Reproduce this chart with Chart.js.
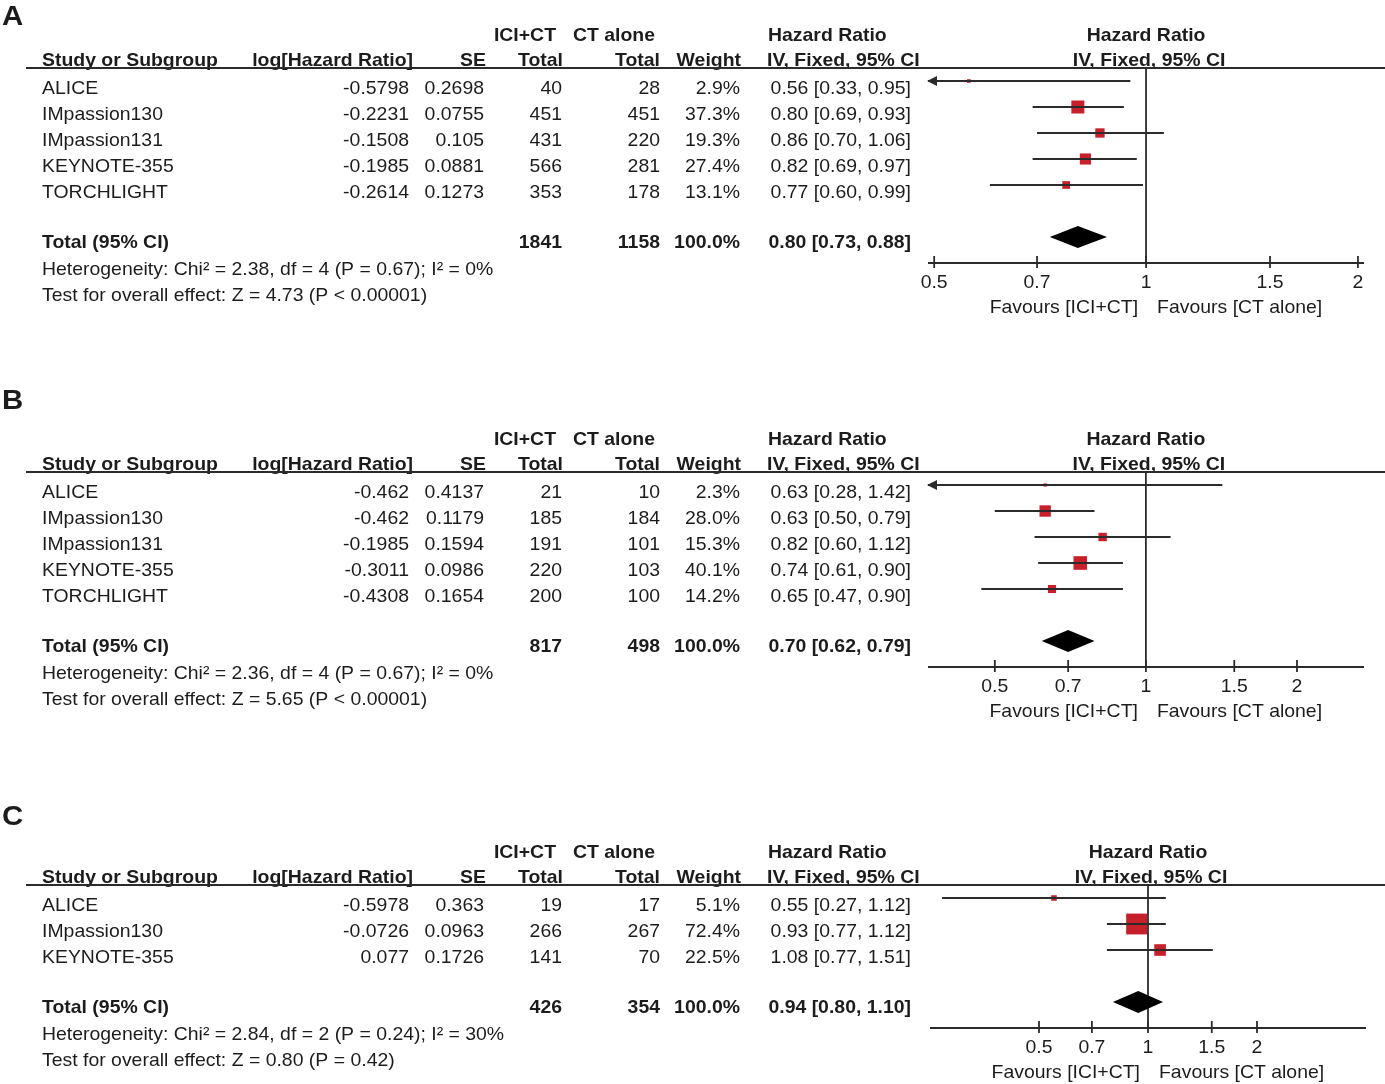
<!DOCTYPE html>
<html>
<head>
<meta charset="utf-8">
<script src="https://cdn.jsdelivr.net/npm/chart.js@4.4.1/dist/chart.umd.min.js"></script>
<style>
  html, body { margin: 0; padding: 0; background: #fff; }
  #wrap { position: relative; width: 1385px; height: 1084px; overflow: hidden; }
  canvas { position: absolute; left: 0; }
</style>
</head>
<body>
<div id="wrap">
  <canvas id="panelA"></canvas>
  <canvas id="panelB"></canvas>
  <canvas id="panelC"></canvas>
</div>
<script>
// ---------- data ----------
const tickLabels = [0.5, 0.7, 1, 1.5, 2];

// A
const studiesA = ["ALICE", "IMpassion130", "IMpassion131", "KEYNOTE-355", "TORCHLIGHT"];
const logHrA = [-0.5798, -0.2231, -0.1508, -0.1985, -0.2614];
const seA = [0.2698, 0.0755, 0.105, 0.0881, 0.1273];
const iciTotalA = [40, 451, 431, 566, 353];
const ctTotalA = [28, 451, 220, 281, 178];
const weightA = [2.9, 37.3, 19.3, 27.4, 13.1];
const hrA = [0.56, 0.80, 0.86, 0.82, 0.77];
const lowA = [0.33, 0.69, 0.70, 0.69, 0.60];
const highA = [0.95, 0.93, 1.06, 0.97, 0.99];
const pooledA = [0.80, 0.73, 0.88];   // HR, low, high
const sumsA = [1841, 1158];
const hetA = "Heterogeneity: Chi² = 2.38, df = 4 (P = 0.67); I² = 0%";
const testA = "Test for overall effect: Z = 4.73 (P < 0.00001)";
const rangeA = [0.49, 2.04];

// B
const studiesB = ["ALICE", "IMpassion130", "IMpassion131", "KEYNOTE-355", "TORCHLIGHT"];
const logHrB = [-0.462, -0.462, -0.1985, -0.3011, -0.4308];
const seB = [0.4137, 0.1179, 0.1594, 0.0986, 0.1654];
const iciTotalB = [21, 185, 191, 220, 200];
const ctTotalB = [10, 184, 101, 103, 100];
const weightB = [2.3, 28.0, 15.3, 40.1, 14.2];
const hrB = [0.63, 0.63, 0.82, 0.74, 0.65];
const lowB = [0.28, 0.50, 0.60, 0.61, 0.47];
const highB = [1.42, 0.79, 1.12, 0.90, 0.90];
const pooledB = [0.70, 0.62, 0.79];
const sumsB = [817, 498];
const hetB = "Heterogeneity: Chi² = 2.36, df = 4 (P = 0.67); I² = 0%";
const testB = "Test for overall effect: Z = 5.65 (P < 0.00001)";
const rangeB = [0.368, 2.72];

// C
const studiesC = ["ALICE", "IMpassion130", "KEYNOTE-355"];
const logHrC = [-0.5978, -0.0726, 0.077];
const seC = [0.363, 0.0963, 0.1726];
const iciTotalC = [19, 266, 141];
const ctTotalC = [17, 267, 70];
const weightC = [5.1, 72.4, 22.5];
const hrC = [0.55, 0.93, 1.08];
const lowC = [0.27, 0.77, 0.77];
const highC = [1.12, 1.12, 1.51];
const pooledC = [0.94, 0.80, 1.10];
const sumsC = [426, 354];
const hetC = "Heterogeneity: Chi² = 2.84, df = 2 (P = 0.24); I² = 30%";
const testC = "Test for overall effect: Z = 0.80 (P = 0.42)";
const rangeC = [0.25, 4];

// ---------- styles ----------
const FONT = '"Liberation Sans", Arial, sans-serif';
const FS = 18.5;       // font size
const SX = 1.05;       // horizontal stretch of the scan
const ROW = 26;        // row height
const TXT = "#1c1c1c";
const INK = "#2b2b2b";
const RED = "#c8202a";

const panels = [
  { letter: "A", canvas: "panelA", top: 0,   height: 372, padTop: 68,  left: 928, right: 1364, boxScale: 2.13, letterY: 25,
    studies: studiesA, logHr: logHrA, se: seA, ici: iciTotalA, ct: ctTotalA, weight: weightA,
    hr: hrA, low: lowA, high: highA, pooled: pooledA, sums: sumsA, het: hetA, test: testA, range: rangeA },
  { letter: "B", canvas: "panelB", top: 372, height: 413, padTop: 100, left: 928, right: 1364, boxScale: 2.15, letterY: 37,
    studies: studiesB, logHr: logHrB, se: seB, ici: iciTotalB, ct: ctTotalB, weight: weightB,
    hr: hrB, low: lowB, high: highB, pooled: pooledB, sums: sumsB, het: hetB, test: testB, range: rangeB },
  { letter: "C", canvas: "panelC", top: 785, height: 299, padTop: 100, left: 930, right: 1366, boxScale: 2.45, letterY: 40,
    studies: studiesC, logHr: logHrC, se: seC, ici: iciTotalC, ct: ctTotalC, weight: weightC,
    hr: hrC, low: lowC, high: highC, pooled: pooledC, sums: sumsC, het: hetC, test: testC, range: rangeC }
];

// ---------- helpers ----------
function txt(ctx, s, x, y, align, bold, size) {
  ctx.save();
  ctx.font = (bold ? "bold " : "") + (size || FS) + "px " + FONT;
  ctx.fillStyle = TXT;
  ctx.textAlign = "left";
  ctx.textBaseline = "alphabetic";
  const w = ctx.measureText(s).width * SX;
  let x0 = x;
  if (align === "right") x0 = x - w;
  if (align === "center") x0 = x - w / 2;
  ctx.translate(x0, y);
  ctx.scale(SX, 1);
  ctx.fillText(s, 0, 0);
  ctx.restore();
}

function seg(ctx, x1, y1, x2, y2, w) {
  ctx.save();
  ctx.strokeStyle = INK;
  ctx.lineWidth = w;
  ctx.beginPath();
  ctx.moveTo(x1, y1);
  ctx.lineTo(x2, y2);
  ctx.stroke();
  ctx.restore();
}

const ci = (h, l, u) => h.toFixed(2) + " [" + l.toFixed(2) + ", " + u.toFixed(2) + "]";

// ---------- plugin: table, axis, diamond ----------
function forestPlugin(p) {
  const n = p.studies.length;
  return {
    id: "forest" + p.letter,
    beforeDatasetsDraw(chart) {
      const { ctx, chartArea: a, scales: { x } } = chart;
      const x1 = x.getPixelForValue(1);
      seg(ctx, x1, a.top, x1, a.bottom, 1.8);
    },
    afterDatasetsDraw(chart) {
      const { ctx, chartArea: a, scales: { x, y } } = chart;

      // arrows for clipped intervals
      ctx.save();
      ctx.fillStyle = INK;
      p.low.forEach((lo, i) => {
        const yy = y.getPixelForValue(i);
        if (lo < x.min) {
          ctx.beginPath();
          ctx.moveTo(a.left - 1, yy);
          ctx.lineTo(a.left + 9, yy - 5);
          ctx.lineTo(a.left + 9, yy + 5);
          ctx.closePath();
          ctx.fill();
        }
        if (p.high[i] > x.max) {
          ctx.beginPath();
          ctx.moveTo(a.right + 1, yy);
          ctx.lineTo(a.right - 9, yy - 5);
          ctx.lineTo(a.right - 9, yy + 5);
          ctx.closePath();
          ctx.fill();
        }
      });

      // pooled diamond
      const yd = y.getPixelForValue(n + 1);
      ctx.fillStyle = "#000";
      ctx.beginPath();
      ctx.moveTo(x.getPixelForValue(p.pooled[1]), yd);
      ctx.lineTo(x.getPixelForValue(p.pooled[0]), yd - 11);
      ctx.lineTo(x.getPixelForValue(p.pooled[2]), yd);
      ctx.lineTo(x.getPixelForValue(p.pooled[0]), yd + 11);
      ctx.closePath();
      ctx.fill();
      ctx.restore();

      // x axis
      seg(ctx, a.left, a.bottom, a.right, a.bottom, 1.8);
      tickLabels.forEach(v => {
        const xx = x.getPixelForValue(v);
        seg(ctx, xx, a.bottom - 7, xx, a.bottom + 5, 1.8);
        txt(ctx, String(v), xx, a.bottom + 25, "center", false);
      });
      const x1 = x.getPixelForValue(1);
      txt(ctx, "Favours [ICI+CT]", x1 - 8, a.bottom + 50, "right", false);
      txt(ctx, "Favours [CT alone]", x1 + 11, a.bottom + 50, "left", false);
    },
    afterDraw(chart) {
      const { ctx, chartArea: a, scales: { x, y } } = chart;
      const T = a.top;
      const x1 = x.getPixelForValue(1);

      txt(ctx, p.letter, 2, p.letterY, "left", true, 28);

      // header
      txt(ctx, "ICI+CT", 556, T - 27, "right", true);
      txt(ctx, "CT alone", 573, T - 27, "left", true);
      txt(ctx, "Hazard Ratio", 768, T - 27, "left", true);
      txt(ctx, "Hazard Ratio", x1, T - 27, "center", true);
      txt(ctx, "Study or Subgroup", 42, T - 2.5, "left", true);
      txt(ctx, "log[Hazard Ratio]", 413, T - 2.5, "right", true);
      txt(ctx, "SE", 486, T - 2.5, "right", true);
      txt(ctx, "Total", 563, T - 2.5, "right", true);
      txt(ctx, "Total", 660, T - 2.5, "right", true);
      txt(ctx, "Weight", 741, T - 2.5, "right", true);
      txt(ctx, "IV, Fixed, 95% CI", 767, T - 2.5, "left", true);
      txt(ctx, "IV, Fixed, 95% CI", x1 + 3, T - 2.5, "center", true);
      seg(ctx, 26, T, 1385, T, 1.8);

      // rows
      p.studies.forEach((s, i) => {
        const b = y.getPixelForValue(i) + 13;
        txt(ctx, s, 42, b, "left", false);
        txt(ctx, String(p.logHr[i]), 409, b, "right", false);
        txt(ctx, String(p.se[i]), 484, b, "right", false);
        txt(ctx, String(p.ici[i]), 562, b, "right", false);
        txt(ctx, String(p.ct[i]), 660, b, "right", false);
        txt(ctx, p.weight[i].toFixed(1) + "%", 740, b, "right", false);
        txt(ctx, ci(p.hr[i], p.low[i], p.high[i]), 911, b, "right", false);
      });

      // total
      const tb = y.getPixelForValue(n + 1) + 11;
      txt(ctx, "Total (95% CI)", 42, tb, "left", true);
      txt(ctx, String(p.sums[0]), 562, tb, "right", true);
      txt(ctx, String(p.sums[1]), 660, tb, "right", true);
      txt(ctx, "100.0%", 740, tb, "right", true);
      txt(ctx, ci(p.pooled[0], p.pooled[1], p.pooled[2]), 911, tb, "right", true);
      txt(ctx, p.het, 42, tb + 27, "left", false);
      txt(ctx, p.test, 42, tb + 53, "left", false);
    }
  };
}

// ---------- charts ----------
panels.forEach(p => {
  const n = p.studies.length;
  const cv = document.getElementById(p.canvas);
  cv.width = 1385;
  cv.height = p.height;
  cv.style.width = "1385px";
  cv.style.height = p.height + "px";
  cv.style.top = p.top + "px";

  const ciSets = p.studies.map((s, i) => ({
    label: s + " CI",
    data: [{ x: p.low[i], y: i }, { x: p.high[i], y: i }],
    showLine: true,
    borderColor: INK,
    borderWidth: 1.8,
    pointRadius: 0
  }));

  const boxSet = {
    label: "HR",
    data: p.hr.map((v, i) => ({ x: v, y: i })),
    pointStyle: "rect",
    pointRadius: p.weight.map(w => p.boxScale * Math.sqrt(w) / (2 * Math.SQRT1_2)),
    pointBackgroundColor: RED,
    pointBorderWidth: 0,
    showLine: false
  };

  new Chart(cv, {
    type: "scatter",
    data: { datasets: [...ciSets, boxSet] },
    options: {
      responsive: false,
      animation: false,
      layout: {
        padding: {
          left: p.left,
          right: 1385 - p.right,
          top: p.padTop,
          bottom: p.height - p.padTop - ROW * (n + 2.5)
        }
      },
      scales: {
        x: { type: "logarithmic", display: false, min: p.range[0], max: p.range[1] },
        y: { type: "linear", display: false, min: -0.5, max: n + 2, reverse: true }
      },
      plugins: { legend: { display: false }, tooltip: { enabled: false } }
    },
    plugins: [forestPlugin(p)]
  });
});
</script>
</body>
</html>
